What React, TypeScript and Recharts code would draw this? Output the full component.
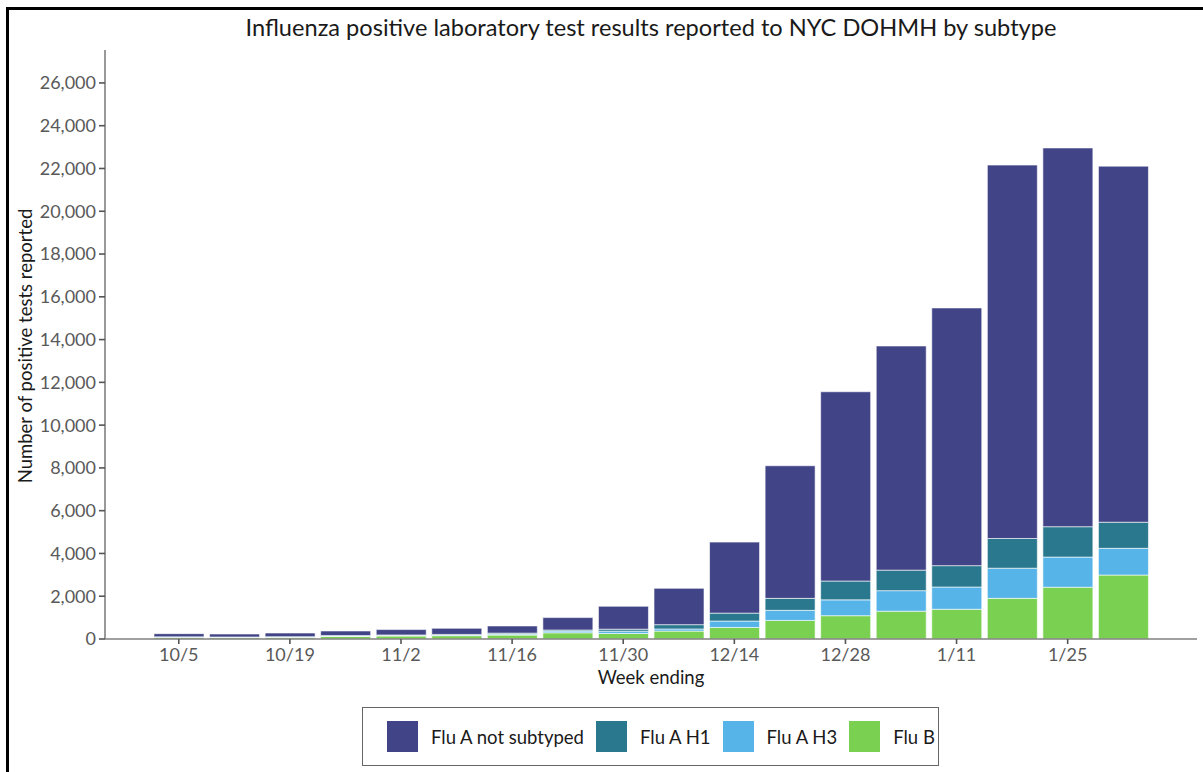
import React from 'react';
import { BarChart, Bar, XAxis, YAxis } from 'recharts';

const weeks = ['10/5', '10/12', '10/19', '10/26', '11/2', '11/9', '11/16', '11/23', '11/30', '12/7', '12/14', '12/21', '12/28', '1/4', '1/11', '1/18', '1/25', '2/1'];
const fluB = [70, 70, 80, 120, 140, 155, 185, 290, 260, 370, 540, 870, 1090, 1300, 1390, 1900, 2420, 2990];
const fluAH3 = [15, 12, 15, 20, 25, 30, 45, 80, 105, 100, 300, 470, 740, 960, 1040, 1410, 1410, 1250];
const fluAH1 = [15, 12, 15, 20, 25, 30, 45, 50, 95, 200, 370, 560, 880, 960, 1000, 1390, 1420, 1220];
const fluANotSubtyped = [150, 140, 170, 215, 250, 285, 335, 580, 1070, 1700, 3320, 6200, 8850, 10480, 12050, 17460, 17710, 16650];
const yTicks = [0, 2000, 4000, 6000, 8000, 10000, 12000, 14000, 16000, 18000, 20000, 22000, 24000, 26000];

const COLORS = {
  notSubtyped: '#414487',
  h1: '#2A788E',
  h3: '#56B4E8',
  b: '#7AD151',
};

const legendItems = [
  { label: 'Flu A not subtyped', color: COLORS.notSubtyped },
  { label: 'Flu A H1', color: COLORS.h1 },
  { label: 'Flu A H3', color: COLORS.h3 },
  { label: 'Flu B', color: COLORS.b },
];

const data = weeks.map((week, i) => ({
  week,
  fluB: fluB[i],
  fluAH3: fluAH3[i],
  fluAH1: fluAH1[i],
  fluANotSubtyped: fluANotSubtyped[i],
}));

const FONT = 'Lato, "Open Sans", sans-serif';
const tickStyle = { fill: '#595959', fontSize: 18, fontFamily: FONT };

export default function App() {
  return (
    <div style={{ position: 'absolute', left: 0, top: 0, width: 1203, height: 772, overflow: 'hidden', background: '#fff', fontFamily: FONT }}>
      {/* frame */}
      <div
        style={{
          position: 'absolute',
          left: 6,
          top: 7,
          width: 1197,
          height: 765,
          borderLeft: '3px solid #000',
          borderTop: '3px solid #000',
          boxSizing: 'border-box',
        }}
      />
      <div
        style={{
          position: 'absolute',
          left: 105,
          width: 1092,
          top: 12,
          lineHeight: '30px',
          fontSize: 23.6,
          color: '#1a1a1a',
          textAlign: 'center',
          whiteSpace: 'nowrap',
        }}
      >
        Influenza positive laboratory test results reported to NYC DOHMH by subtype
      </div>

      <div style={{ position: 'absolute', left: 0, top: 0 }}>
        <BarChart
          width={1203}
          height={772}
          data={data}
          margin={{ top: 50, right: 6, bottom: 103, left: 25 }}
          barCategoryGap={3}
        >
          <XAxis
            dataKey="week"
            height={30}
            interval={1}
            padding={{ left: 46, right: 46 }}
            tick={tickStyle}
            tickSize={5}
            tickMargin={4}
            axisLine={{ stroke: '#808080', strokeWidth: 1.6 }}
            tickLine={{ stroke: '#555', strokeWidth: 1.6 }}
          />
          <YAxis
            width={80}
            domain={[0, 27540]}
            ticks={yTicks}
            allowDataOverflow
            tick={tickStyle}
            tickSize={6}
            tickMargin={3}
            tickFormatter={(v: number) => v.toLocaleString('en-US')}
            axisLine={{ stroke: '#808080', strokeWidth: 1.6 }}
            tickLine={{ stroke: '#555', strokeWidth: 1.6 }}
          />
          <Bar dataKey="fluB" stackId="flu" fill={COLORS.b} stroke="#ffffff" strokeOpacity={0.6} strokeWidth={1} isAnimationActive={false} />
          <Bar dataKey="fluAH3" stackId="flu" fill={COLORS.h3} stroke="#ffffff" strokeOpacity={0.6} strokeWidth={1} isAnimationActive={false} />
          <Bar dataKey="fluAH1" stackId="flu" fill={COLORS.h1} stroke="#ffffff" strokeOpacity={0.6} strokeWidth={1} isAnimationActive={false} />
          <Bar dataKey="fluANotSubtyped" stackId="flu" fill={COLORS.notSubtyped} stroke="#ffffff" strokeOpacity={0.6} strokeWidth={1} isAnimationActive={false} />
        </BarChart>
      </div>

      {/* axis titles */}
      <div
        style={{
          position: 'absolute',
          left: 25,
          top: 346,
          transform: 'translate(-50%, -50%) rotate(-90deg)',
          fontSize: 18.5,
          color: '#1a1a1a',
          whiteSpace: 'nowrap',
        }}
      >
        Number of positive tests reported
      </div>
      <div
        style={{
          position: 'absolute',
          left: 105,
          width: 1092,
          top: 665,
          lineHeight: '24px',
          fontSize: 18.5,
          color: '#1a1a1a',
          textAlign: 'center',
        }}
      >
        Week ending
      </div>

      {/* legend */}
      <div
        style={{
          position: 'absolute',
          left: 362,
          top: 707,
          width: 577,
          height: 59,
          border: '1px solid #666',
          boxSizing: 'border-box',
          display: 'flex',
          alignItems: 'center',
          paddingLeft: 24,
        }}
      >
        {legendItems.map((item) => (
          <div key={item.label} style={{ display: 'flex', alignItems: 'center', marginRight: 12 }}>
            <span style={{ display: 'inline-block', width: 31, height: 31, background: item.color, marginRight: 13 }} />
            <span style={{ fontSize: 18.5, color: '#1a1a1a', whiteSpace: 'nowrap' }}>{item.label}</span>
          </div>
        ))}
      </div>
    </div>
  );
}
